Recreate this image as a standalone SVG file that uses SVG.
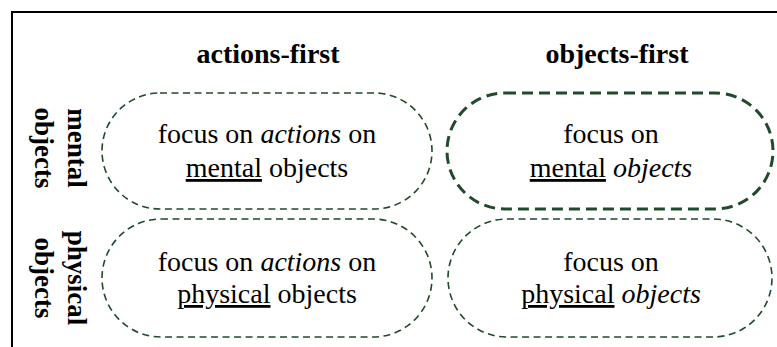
<svg xmlns="http://www.w3.org/2000/svg" width="777" height="347" viewBox="0 0 777 347">
<style>
.hdr{font-family:'Liberation Serif','DejaVu Serif',serif;font-weight:bold;font-size:28px;fill:#000;text-anchor:middle}
.side{font-family:'Liberation Serif','DejaVu Serif',serif;font-weight:bold;font-size:27px;fill:#000;text-anchor:middle}
.body{font-family:'Liberation Serif','DejaVu Serif',serif;font-size:28px;fill:#000;text-anchor:middle}
.pill{fill:none;stroke:#1f4a2b;stroke-width:1.6;stroke-dasharray:7 4.5}
.pill-thick{fill:none;stroke:#1f4a2b;stroke-width:3;stroke-dasharray:11 6}
.frame{fill:none;stroke:#000;stroke-width:2}
.u{text-decoration:underline}
.i{font-style:italic}
</style>
<path class="frame" d="M12 347 V12 H777"/>
<g id="header-actions"><text class="hdr" x="268" y="63">actions-first</text></g>
<g id="header-objects"><text class="hdr" x="617" y="63">objects-first</text></g>
<g id="row-mental">
<text class="side" transform="translate(68,148) rotate(90)"><tspan x="0" y="0">mental</tspan><tspan x="0" y="33">objects</tspan></text>
</g>
<g id="row-physical">
<text class="side" transform="translate(68,278) rotate(90)"><tspan x="0" y="0">physical</tspan><tspan x="0" y="33">objects</tspan></text>
</g>
<g id="node-actions-mental">
<rect class="pill" x="102" y="93" width="330" height="116" rx="58" ry="58"/>
<text class="body" x="267" y="143">focus on <tspan class="i">actions</tspan> on</text>
<text class="body" x="267" y="177"><tspan class="u">mental</tspan> objects</text>
</g>
<g id="node-objects-mental">
<rect class="pill-thick" x="447" y="93" width="326" height="116" rx="58" ry="58"/>
<text class="body" x="611" y="143">focus on</text>
<text class="body" x="611" y="177"><tspan class="u">mental</tspan> <tspan class="i">objects</tspan></text>
</g>
<g id="node-actions-physical">
<rect class="pill" x="102" y="219" width="330" height="118" rx="59" ry="59"/>
<text class="body" x="267" y="271">focus on <tspan class="i">actions</tspan> on</text>
<text class="body" x="267" y="303"><tspan class="u">physical</tspan> objects</text>
</g>
<g id="node-objects-physical">
<rect class="pill" x="448" y="219" width="324" height="118" rx="59" ry="59"/>
<text class="body" x="611" y="271">focus on</text>
<text class="body" x="611" y="303"><tspan class="u">physical</tspan> <tspan class="i">objects</tspan></text>
</g>
<g id="connectors"/>
</svg>
